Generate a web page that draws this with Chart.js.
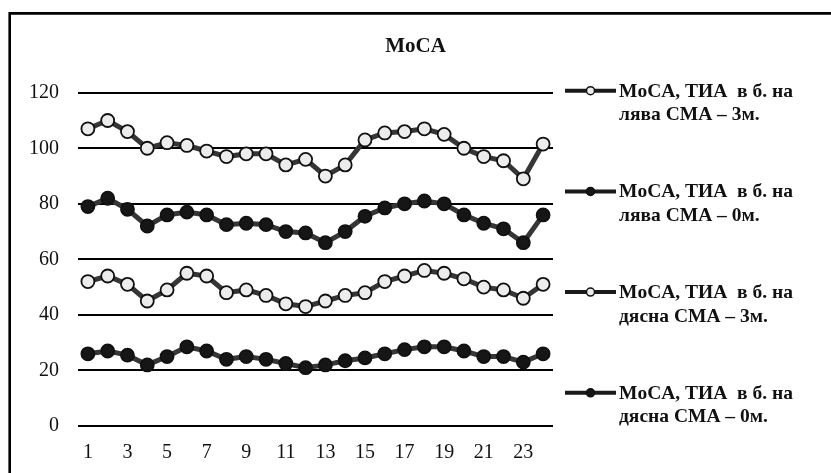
<!DOCTYPE html>
<html>
<head>
<meta charset="utf-8">
<script src="https://cdn.jsdelivr.net/npm/chart.js@4"></script>
<style>
  body { margin: 0; background: #fff; }
  #wrap { width: 831px; height: 473px; position: relative; }
</style>
</head>
<body>
<div id="wrap"><canvas id="myChart"></canvas></div>
<script>
// data
const days = ['1','2','3','4','5','6','7','8','9','10','11','12','13','14','15','16','17','18','19','20','21','22','23','24'];
const left3m  = [107, 110, 106, 100, 102, 101, 99, 97, 98, 98, 94, 96, 90, 94, 103, 105.5, 106, 107, 105, 100, 97, 95.5, 89, 101.5];
const left0m  = [79, 82, 78, 72, 76, 77, 76, 72.5, 73, 72.5, 70, 69.5, 66, 70, 75.5, 78.5, 80, 81, 80, 76, 73, 71, 66, 76];
const right3m = [52, 54, 51, 45, 49, 55, 54, 48, 49, 47, 44, 43, 45, 47, 48, 52, 54, 56, 55, 53, 50, 49, 46, 51];
const right0m = [26, 27, 25.5, 22, 25, 28.5, 27, 24, 25, 24, 22.5, 21, 22, 23.5, 24.5, 26, 27.5, 28.5, 28.5, 27, 25, 25, 23, 26];
const seriesNames = [
    ['MoCA, ТИА  в б. на', 'лява СМА – 3м.'],
    ['MoCA, ТИА  в б. на', 'лява СМА – 0м.'],
    ['MoCA, ТИА  в б. на', 'дясна СМА – 3м.'],
    ['MoCA, ТИА  в б. на', 'дясна СМА – 0м.']
];
const yTicks = [0, 20, 40, 60, 80, 100, 120];
const chartTitle = 'MoCA';

const serif = "'Liberation Serif', 'Times New Roman', serif";

function makeSet(values, name, hollow) {
    return {
        label: name.join(' '),
        legendLines: name,
        data: values,
        borderColor: '#363636',
        borderWidth: 5,
        pointRadius: 6.5,
        pointHoverRadius: 6.5,
        pointBorderWidth: 1.8,
        pointBorderColor: '#111',
        pointBackgroundColor: hollow ? '#ececec' : '#161616',
        tension: 0
    };
}

// white page + frame (only left and top edge show in the picture)
const framePlugin = {
    id: 'frame',
    beforeDraw(chart) {
        const ctx = chart.ctx;
        ctx.save();
        ctx.fillStyle = '#fff';
        ctx.fillRect(0, 0, chart.width, chart.height);
        ctx.strokeStyle = '#000';
        ctx.lineWidth = 2.6;
        ctx.beginPath();
        ctx.moveTo(9.7, chart.height + 5);
        ctx.lineTo(9.7, 13.4);
        ctx.lineTo(chart.width + 5, 13.4);
        ctx.stroke();
        ctx.restore();
    }
};

// title centred on the whole picture, legend on the right with two text lines
const sideLegend = {
    id: 'sideLegend',
    afterDraw(chart) {
        const ctx = chart.ctx;
        ctx.save();
        ctx.fillStyle = '#111';
        ctx.font = 'bold 21px ' + serif;
        ctx.textAlign = 'center';
        ctx.textBaseline = 'middle';
        ctx.fillText(chartTitle, chart.width / 2, 47);

        const x0 = chart.chartArea.right + 12;
        const step = 100.7;
        chart.data.datasets.forEach((ds, i) => {
            const y = chart.chartArea.top - 2 + i * step;
            ctx.strokeStyle = '#1a1a1a';
            ctx.lineWidth = 4;
            ctx.beginPath();
            ctx.moveTo(x0, y);
            ctx.lineTo(x0 + 51, y);
            ctx.stroke();
            ctx.beginPath();
            ctx.arc(x0 + 25.5, y, 4, 0, Math.PI * 2);
            ctx.fillStyle = ds.pointBackgroundColor;
            ctx.fill();
            ctx.lineWidth = 1.5;
            ctx.strokeStyle = '#111';
            ctx.stroke();

            ctx.fillStyle = '#111';
            ctx.font = 'bold 19.5px ' + serif;
            ctx.textBaseline = 'middle';
            ctx.textAlign = 'left';
            ds.legendLines.forEach((t, k) => {
                ctx.fillText(t, x0 + 54, y + 1 + k * 23.5);
            });
        });
        ctx.restore();
    }
};

const config = {
    type: 'line',
    data: {
        labels: days,
        datasets: [
            makeSet(left3m, seriesNames[0], true),
            makeSet(left0m, seriesNames[1], false),
            makeSet(right3m, seriesNames[2], true),
            makeSet(right0m, seriesNames[3], false)
        ]
    },
    options: {
        responsive: true,
        maintainAspectRatio: false,
        animation: false,
        events: [],
        layout: { padding: { left: 0, right: 278, top: 92.7, bottom: 6 } },
        plugins: {
            legend: { display: false },
            tooltip: { enabled: false },
            title: { display: false }
        },
        scales: {
            x: {
                offset: true,
                grid: { display: false, drawTicks: false },
                border: { display: false },
                afterFit: function (axis) { axis.height = 41; },
                ticks: {
                    autoSkip: false,
                    maxRotation: 0,
                    padding: 15,
                    color: '#111',
                    font: { family: serif, size: 20 },
                    callback: function (v, i) { return i % 2 === 0 ? days[i] : ''; }
                }
            },
            y: {
                min: yTicks[0],
                max: yTicks[yTicks.length - 1],
                afterBuildTicks: function (axis) { axis.ticks = yTicks.map(v => ({ value: v })); },
                afterFit: function (axis) { axis.width = 78; },
                grid: { color: '#000', lineWidth: 2, drawTicks: false },
                border: { display: false },
                ticks: {
                    padding: 19,
                    color: '#111',
                    font: { family: serif, size: 20 }
                }
            }
        }
    },
    plugins: [framePlugin, sideLegend]
};

new Chart(document.getElementById('myChart'), config);
</script>
</body>
</html>
